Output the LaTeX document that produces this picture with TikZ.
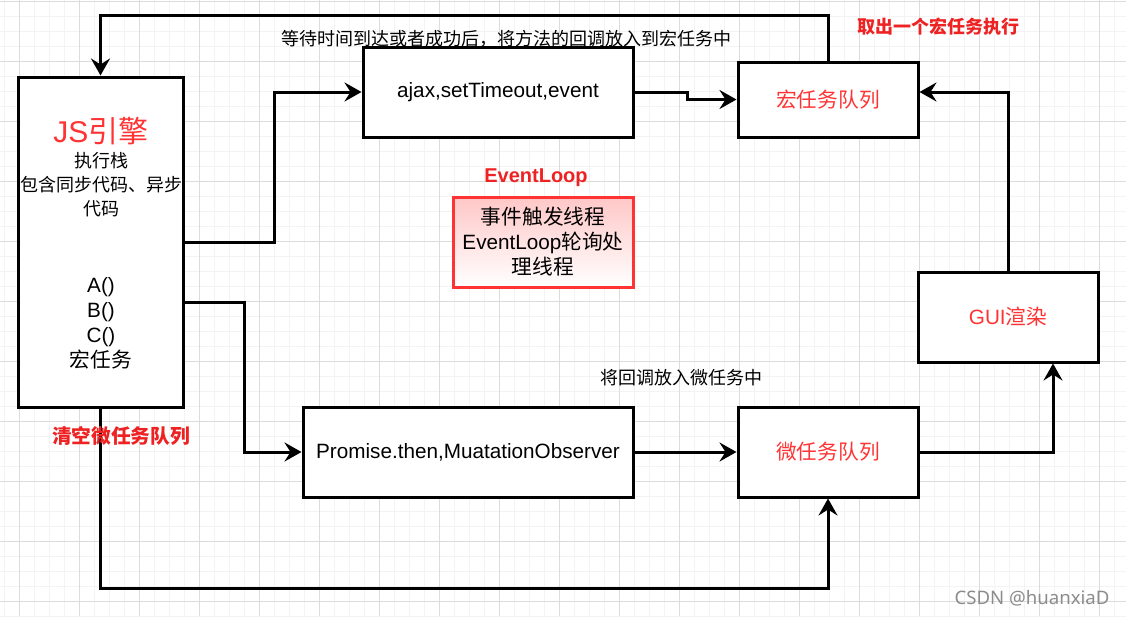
\documentclass[tikz,border=0pt]{standalone}
\usepackage{fontspec}
\setmainfont{Liberation Sans}
\newfontfamily\cjk{Noto Sans CJK SC}
\newfontfamily\wmfont{Noto Sans}
\usetikzlibrary{arrows.meta}
\definecolor{tred}{HTML}{FF3333}
\definecolor{lred}{HTML}{EE2222}
\definecolor{gmaj}{HTML}{DCDCDC}
\definecolor{gmin}{HTML}{F3F3F3}
\definecolor{wm}{HTML}{8C8C8C}
\begin{document}
\begin{tikzpicture}[x=1pt,y=-1pt,
  box/.style={draw=black, line width=3pt, fill=white, inner sep=0pt},
  arr/.style={line width=3pt, -{Stealth[length=17pt,width=19pt,inset=6pt]}},
  txt/.style={inner sep=0pt, align=center, font=\fontsize{20.7}{25}\selectfont},
  small/.style={inner sep=0pt, align=center, font=\fontsize{18}{24}\selectfont},
  boldlbl/.style={inner sep=0pt, text=lred, font=\bfseries\fontsize{18}{22}\selectfont}
]
% background and grid
\fill[white] (0,0) rectangle (1126,616);
\useasboundingbox (0,0) rectangle (1126,616);
\foreach \x in {4,19,...,1126} \draw[gmin, line width=1pt] (\x,0) -- (\x,616);
\foreach \y in {1,16,...,616} \draw[gmin, line width=1pt] (0,\y) -- (1126,\y);
\foreach \x in {19,79,...,1126} \draw[gmaj, line width=1pt] (\x,0) -- (\x,616);
\foreach \y in {1,61,...,616} \draw[gmaj, line width=1pt] (0,\y) -- (1126,\y);

% boxes
\node[box, minimum width=165pt, minimum height=330pt] (js) at (100.5,242) {};
\node[box, minimum width=270pt, minimum height=90pt] (ajax) at (498,92) {};
\node[box, minimum width=180pt, minimum height=75pt] (macro) at (828,99.5) {};
\node[box, minimum width=180pt, minimum height=90pt] (gui) at (1008,317) {};
\node[box, minimum width=180pt, minimum height=90pt] (micro) at (828,452) {};
\node[box, minimum width=330pt, minimum height=90pt] (prom) at (468,452) {};
\node[draw=tred, line width=3pt, top color=red!22, bottom color=white,
      minimum width=180pt, minimum height=90pt, inner sep=0pt] (el) at (543,242) {};

% box texts
\node[txt] (ajaxt) at (ajax.center) {ajax,setTimeout,event};
\node[txt, text=tred] (macrot) at (macro.center) {\cjk 宏任务队列};
\node[txt, text=tred] (guit) at (gui.center) {GUI{\cjk 渲染}};
\node[txt, text=tred] (microt) at (micro.center) {\cjk 微任务队列};
\node[txt] (promt) at (prom.center) {Promise.then,MuatationObserver};
\node[txt] (elt) at (el.center) {{\cjk 事件触发线程}\\EventLoop{\cjk 轮询处}\\{\cjk 理线程}};
\node[inner sep=0pt, text=tred, font=\fontsize{30}{34}\selectfont] (jst) at (101,131) {JS{\cjk 引擎}};
\node[small] (jst2) at (101,185) {{\cjk 执行栈}\\{\cjk 包含同步代码、异步}\\{\cjk 代码}};
\node[txt] (jst3) at (101,323) {A()\\B()\\C()\\{\cjk 宏任务}};

% connectors
\draw[arr] (macro.north) -- ++(0,-45) -| (js.north);
\draw[arr] (js.east) -- ++(90,0) |- (ajax.west);
\draw[arr] (ajax.east) -- ++(53,0) |- (macro.west);
\draw[arr] ([yshift=-60pt]js.east) -- ++(60,0) |- (prom.west);
\draw[arr] (prom.east) -- (micro.west);
\draw[arr] (micro.east) -| ([xshift=45pt]gui.south);
\draw[arr] (gui.north) |- ([yshift=7.5pt]macro.east);
\draw[arr] (js.south) -- ++(0,180) -| (micro.south);

% labels
\node[small] (l1) at (506,39) {\cjk 等待时间到达或者成功后，将方法的回调放入到宏任务中};
\node[small] (l2) at (681.5,378) {\cjk 将回调放入微任务中};
\node[boldlbl] (l3) at (938,27) {\cjk\bfseries 取出一个宏任务执行};
\node[boldlbl, font=\bfseries\fontsize{19.7}{22}\selectfont] (l4) at (121,436) {\cjk\bfseries 清空微任务队列};
\node[boldlbl, font=\bfseries\fontsize{20}{22}\selectfont] (l5) at (536,178) {EventLoop};
\node[inner sep=0pt, text=wm, font=\wmfont\fontsize{18.6}{20}\selectfont] (wmk) at (1032,598) {CSDN @huanxiaD};
\end{tikzpicture}
\end{document}
